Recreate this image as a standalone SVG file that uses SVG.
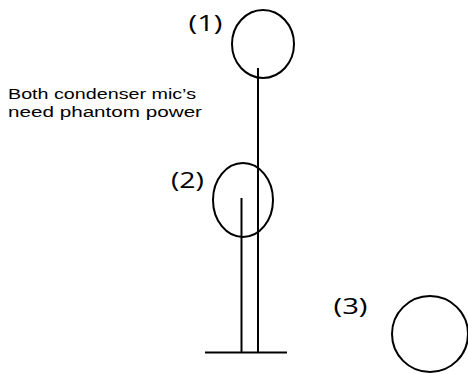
<svg xmlns="http://www.w3.org/2000/svg" width="468" height="374" viewBox="0 0 468 374">
  <style>
    .shape { fill: none; stroke: #000; stroke-width: 2; }
    .lbl { font-family: "Open Sans", "Noto Sans", sans-serif; font-size: 21px; fill: #000; }
    .note { font-family: "Liberation Sans", Arial, sans-serif; font-size: 15.5px; fill: #000; }
  </style>
  <rect width="468" height="374" fill="#fff"/>
  <g id="note">
    <text class="note" x="8" y="99" textLength="188" lengthAdjust="spacingAndGlyphs">Both condenser mic’s</text>
    <text class="note" x="8" y="116.5" textLength="194" lengthAdjust="spacingAndGlyphs">need phantom power</text>
  </g>
  <g id="mic1">
    <ellipse class="shape" cx="263" cy="44" rx="31" ry="34"/>
    <text class="lbl" x="188.5" y="31" textLength="34" lengthAdjust="spacingAndGlyphs">(1)</text>
  </g>
  <g id="mic2">
    <ellipse class="shape" cx="243" cy="200" rx="30" ry="37"/>
    <text class="lbl" x="171" y="188" textLength="33" lengthAdjust="spacingAndGlyphs">(2)</text>
  </g>
  <g id="mic3">
    <circle class="shape" cx="430" cy="334" r="38"/>
    <text class="lbl" x="333.5" y="314" textLength="34" lengthAdjust="spacingAndGlyphs">(3)</text>
  </g>
  <g id="connectors">
    <line class="shape" x1="258" y1="68" x2="258" y2="353"/>
    <line class="shape" x1="241.5" y1="198" x2="241.5" y2="353"/>
    <line class="shape" x1="205" y1="352.5" x2="287" y2="352.5"/>
  </g>
</svg>
